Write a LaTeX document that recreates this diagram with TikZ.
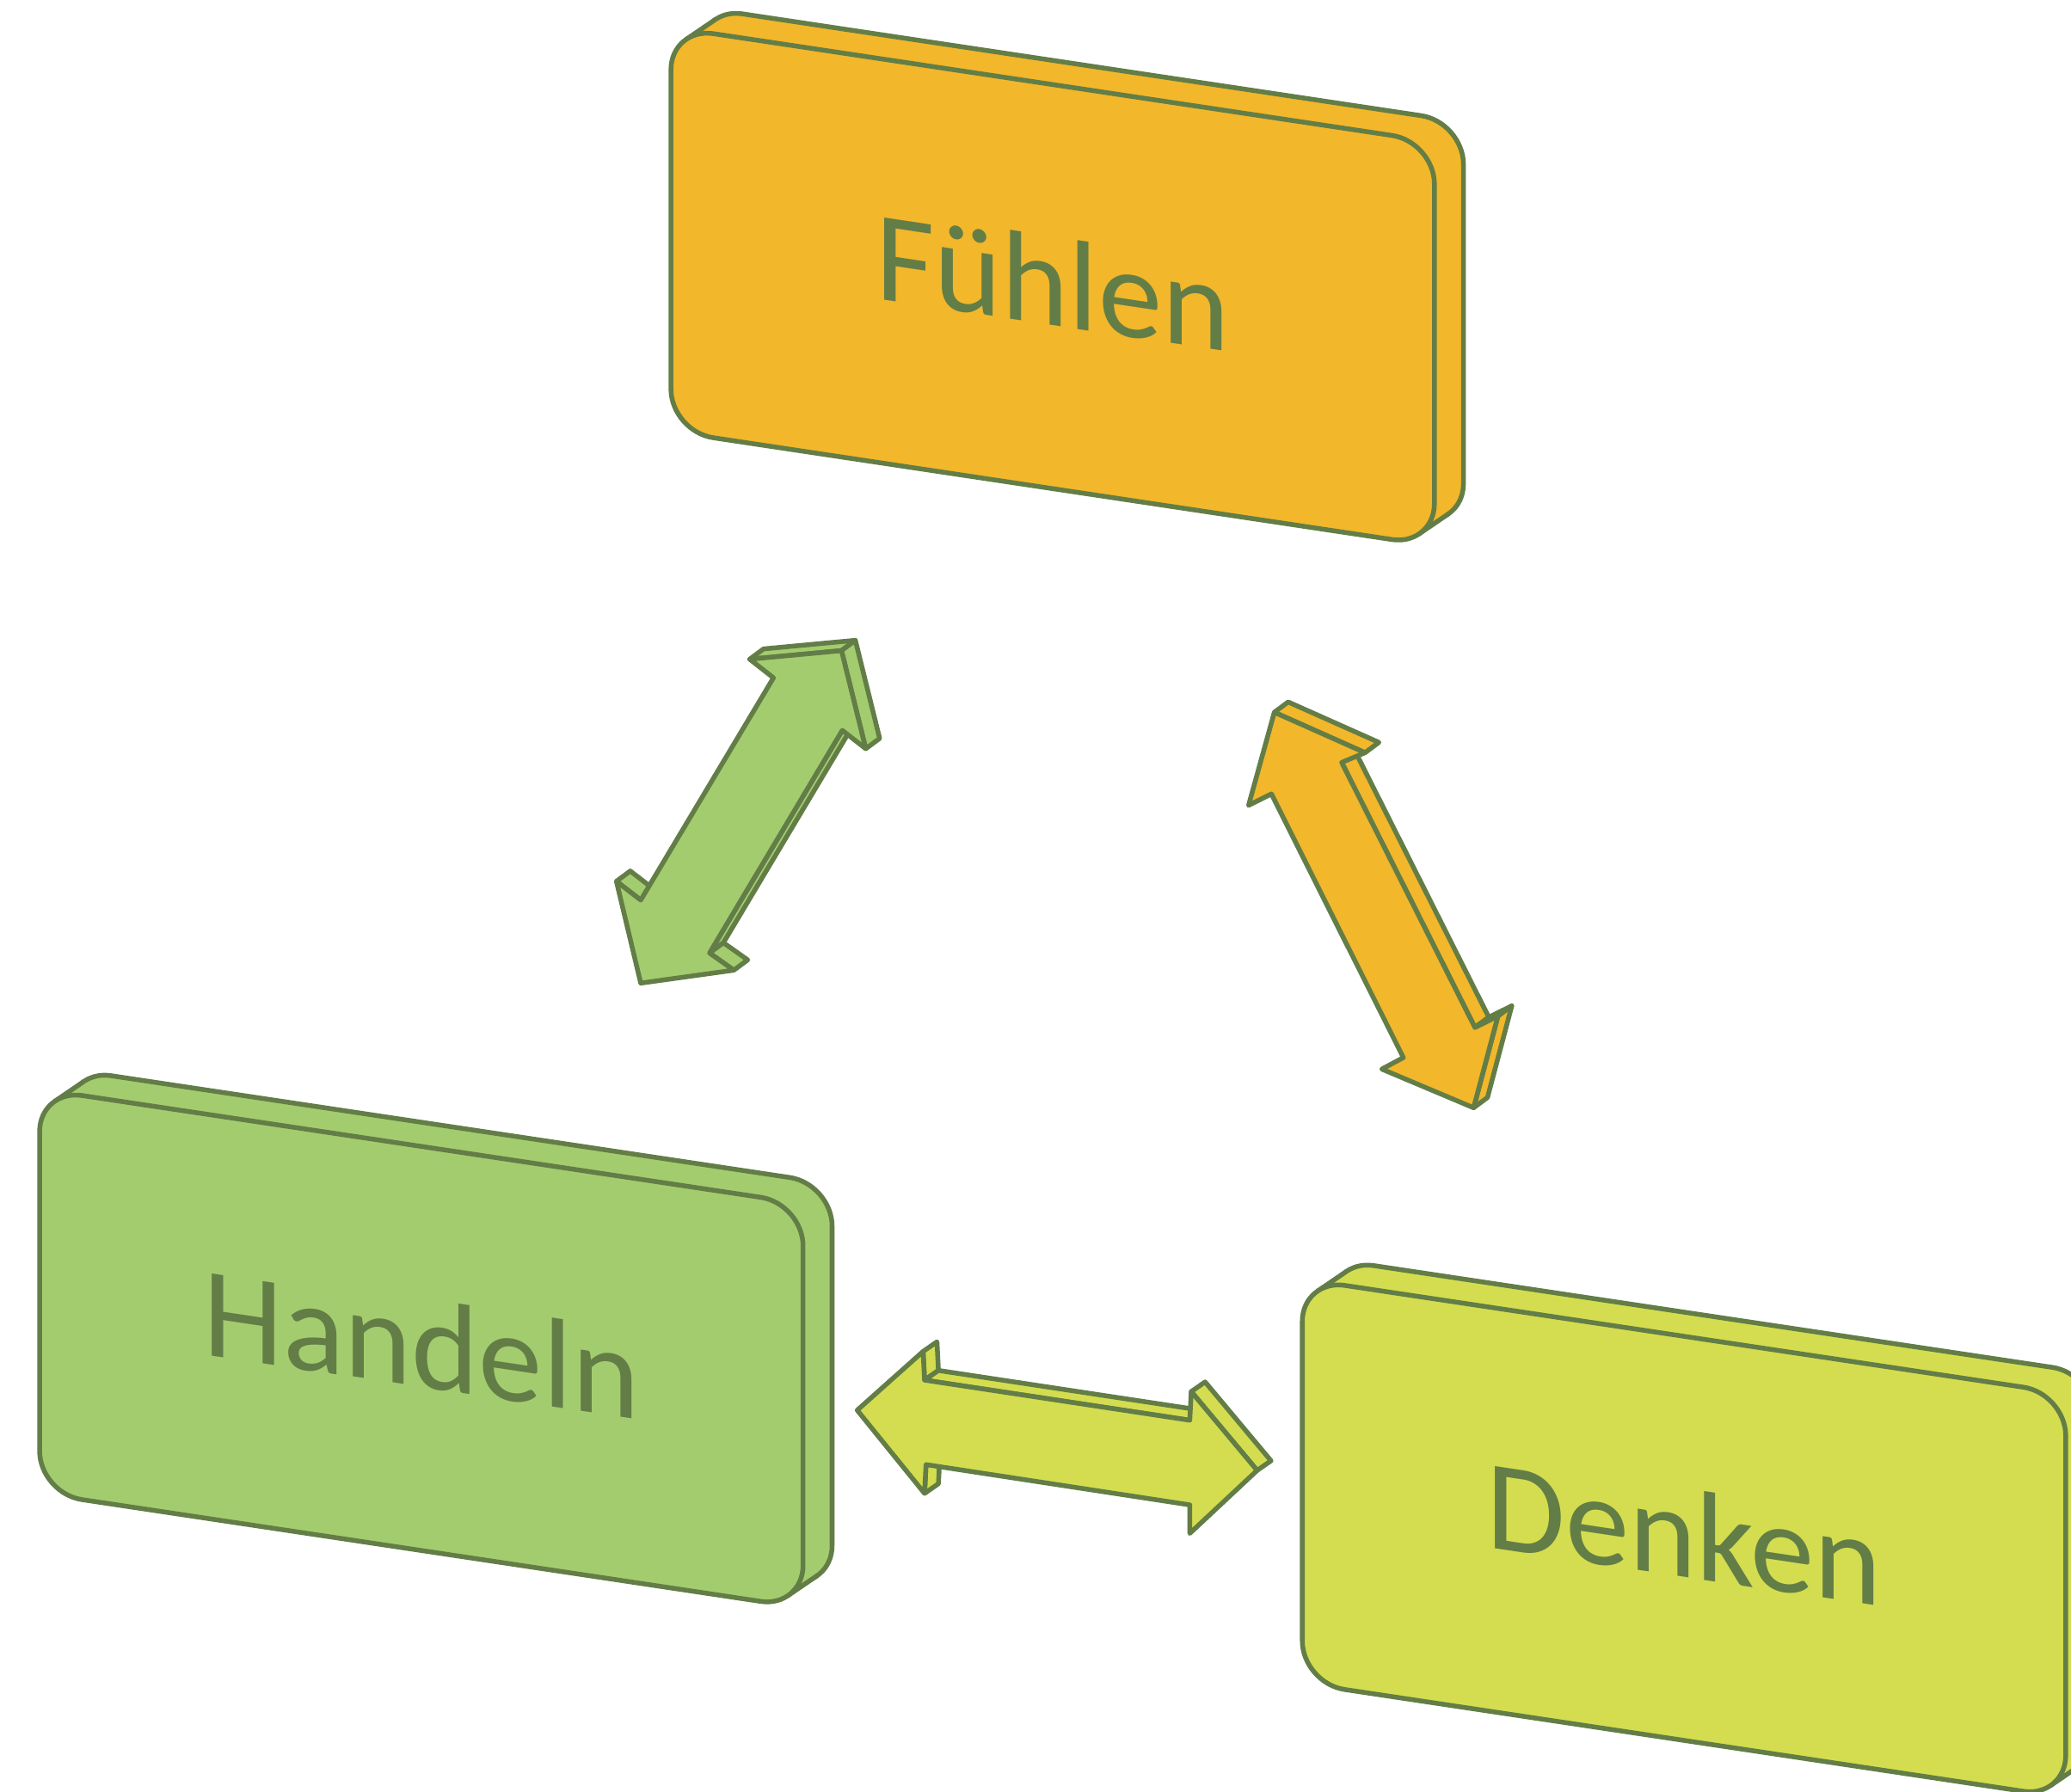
\documentclass[tikz,border=0pt]{standalone}
\usepackage{fontspec}
\setmainfont{Carlito}
\definecolor{lineG}{RGB}{99,125,71}
\definecolor{orangeF}{RGB}{242,183,43}
\definecolor{greenF}{RGB}{163,204,111}
\definecolor{yellowF}{RGB}{212,221,79}
\tikzset{
  ln/.style={draw=lineG, line width=3.6pt, line join=round, line cap=round},
  lbl/.style={text=lineG, font=\fontsize{97}{103}\selectfont, transform shape, inner sep=0pt}
}
% rounded slab outline in local coordinates (W=578, H=306, r=32)
\newcommand{\rrdraw}[2]{\draw[ln, fill=#1, #2] (0,32) -- (0,274) .. controls (0,291.67) and (14.33,306) .. (32,306) -- (546,306) .. controls (563.67,306) and (578,291.67) .. (578,274) -- (578,32) .. controls (578,14.33) and (563.67,0) .. (546,0) -- (32,0) .. controls (14.33,0) and (0,14.33) .. (0,32) -- cycle;}
\newcommand{\slabbox}[5]{%
  \begin{scope}[shift={(#2,#3)}, yslant=-0.15]
    \rrdraw{#4}{shift={(22,18.3)}}
    \fill[#4] (11.54,298.6) -- (33.54,316.9) -- (588.46,25.7) -- (566.46,7.4) -- cycle;
    \draw[ln] (11.54,298.6) -- (33.54,316.9);
    \draw[ln] (566.46,7.4) -- (588.46,25.7);
    \rrdraw{#4}{}
    \node[lbl] (#1) at (289,157) {#5};
  \end{scope}}
\begin{document}
\begin{tikzpicture}[x=1pt,y=1pt]
\useasboundingbox (0,0) rectangle (1568,1357);
\clip (0,0) rectangle (1568,1357);

\slabbox{fuehlen}{508}{1030.3}{orangeF}{Fühlen}
\slabbox{handeln}{30}{226.2}{greenF}{Handeln}
\slabbox{denken}{986}{82.4}{yellowF}{Denken}

\begin{scope}[shift={(0,1357)}, yscale=-1]
  % green double arrow (Fuehlen - Handeln)
  \coordinate (gA) at (637.1,492.7);  \coordinate (gAb) at (647.6,484.9);
  \coordinate (gB) at (655.5,567.0);  \coordinate (gBb) at (666.0,559.2);
  \coordinate (gC) at (637.7,553.1);  \coordinate (gCb) at (648.2,545.3);
  \coordinate (gD) at (537.2,721.7);  \coordinate (gDb) at (547.7,713.9);
  \coordinate (gE) at (555.6,734.7);  \coordinate (gEb) at (566.1,726.9);
  \coordinate (gF) at (485.1,744.5);
  \coordinate (gG) at (466.7,667.4);  \coordinate (gGb) at (477.2,659.6);
  \coordinate (gH) at (485.1,681.6);  \coordinate (gHb) at (495.6,673.8);
  \coordinate (gI) at (585.6,513.3);
  \coordinate (gJ) at (567.6,499.2);  \coordinate (gJb) at (578.1,491.4);
  \draw[ln, fill=greenF] (gJ) -- (gA) -- (gAb) -- (gJb) -- cycle;
  \draw[ln, fill=greenF] (gA) -- (gB) -- (gBb) -- (gAb) -- cycle;
  \draw[ln, fill=greenF] (gC) -- (gD) -- (gDb) -- (gCb) -- cycle;
  \draw[ln, fill=greenF] (gD) -- (gE) -- (gEb) -- (gDb) -- cycle;
  \draw[ln, fill=greenF] (gG) -- (gH) -- (gHb) -- (gGb) -- cycle;
  \draw[ln, fill=greenF] (gA) -- (gB) -- (gC) -- (gD) -- (gE) -- (gF) -- (gG) -- (gH) -- (gI) -- (gJ) -- cycle;

  % orange double arrow (Fuehlen - Denken)
  \coordinate (oA) at (964.8,539.4);  \coordinate (oAb) at (975.3,531.6);
  \coordinate (oB) at (1033.5,570.0); \coordinate (oBb) at (1044.0,562.2);
  \coordinate (oC) at (1015.8,577.4); \coordinate (oCb) at (1026.3,569.6);
  \coordinate (oD) at (1116.7,778.1); \coordinate (oDb) at (1127.2,770.3);
  \coordinate (oE) at (1134.1,769.5); \coordinate (oEb) at (1144.6,761.7);
  \coordinate (oF) at (1115.7,838.9); \coordinate (oFb) at (1126.2,831.1);
  \coordinate (oG) at (1046.2,809.6);
  \coordinate (oH) at (1062.5,800.9);
  \coordinate (oI) at (962.6,601.2);
  \coordinate (oJ) at (945.3,609.9);
  \draw[ln, fill=orangeF] (oA) -- (oB) -- (oBb) -- (oAb) -- cycle;
  \draw[ln, fill=orangeF] (oC) -- (oD) -- (oDb) -- (oCb) -- cycle;
  \draw[ln, fill=orangeF] (oD) -- (oE) -- (oEb) -- (oDb) -- cycle;
  \draw[ln, fill=orangeF] (oE) -- (oF) -- (oFb) -- (oEb) -- cycle;
  \draw[ln, fill=orangeF] (oA) -- (oB) -- (oC) -- (oD) -- (oE) -- (oF) -- (oG) -- (oH) -- (oI) -- (oJ) -- cycle;

  % yellow double arrow (Handeln - Denken)
  \coordinate (yA) at (649.0,1067.9);
  \coordinate (yB) at (698.9,1023.4); \coordinate (yBb) at (709.4,1016.1);
  \coordinate (yC) at (700.0,1045.1); \coordinate (yCb) at (710.5,1037.8);
  \coordinate (yD) at (900.8,1075.5); \coordinate (yDb) at (911.3,1068.2);
  \coordinate (yE) at (901.9,1053.8); \coordinate (yEb) at (912.4,1046.5);
  \coordinate (yF) at (951.8,1113.5); \coordinate (yFb) at (962.3,1106.2);
  \coordinate (yG) at (900.8,1161.2);
  \coordinate (yH) at (900.8,1139.6);
  \coordinate (yI) at (701.1,1109.1); \coordinate (yIb) at (711.6,1101.8);
  \coordinate (yJ) at (700.0,1130.9); \coordinate (yJb) at (710.5,1123.6);
  \draw[ln, fill=yellowF] (yB) -- (yC) -- (yCb) -- (yBb) -- cycle;
  \draw[ln, fill=yellowF] (yC) -- (yD) -- (yDb) -- (yCb) -- cycle;
  \draw[ln, fill=yellowF] (yE) -- (yF) -- (yFb) -- (yEb) -- cycle;
  \draw[ln, fill=yellowF] (yI) -- (yJ) -- (yJb) -- (yIb) -- cycle;
  \draw[ln, fill=yellowF] (yA) -- (yB) -- (yC) -- (yD) -- (yE) -- (yF) -- (yG) -- (yH) -- (yI) -- (yJ) -- cycle;
\end{scope}
\end{tikzpicture}
\end{document}
